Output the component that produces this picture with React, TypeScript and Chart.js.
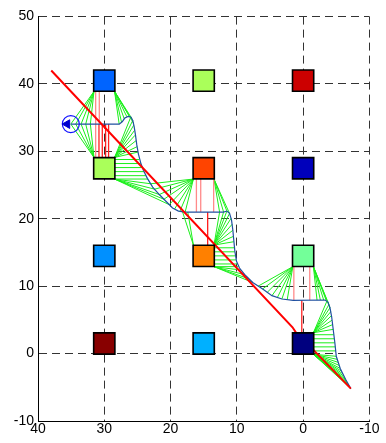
import { useEffect, useRef } from 'react';
import { Chart, registerables } from 'chart.js';

Chart.register(...registerables);

// ---- data ----
const xTickValues = [40, 30, 20, 10, 0, -10];
const yTickValues = [50, 40, 30, 20, 10, 0, -10];

const squareX = [30, 15, 0, 30, 15, 0, 30, 15, 0, 30, 15, 0];
const squareY = [40.5, 40.5, 40.5, 27.5, 27.5, 27.5, 14.5, 14.5, 14.5, 1.5, 1.5, 1.5];
const squareColors = [
  '#0064ff', '#aaff5a', '#cc0000',
  '#aaff5a', '#ff4400', '#0000bb',
  '#0090ff', '#ff8000', '#73ff99',
  '#880000', '#00b0ff', '#00007f',
];

const pathX = [35.05, 27.75, 27.3, 26.9, 26.4, 26.0, 25.7, 25.5, 25.3, 25.1, 24.85, 24.5, 24.1, 23.5, 22.7, 21.7, 20.7, 19.7, 18.8, 17.8, 12.0, 11.5, 11.1, 10.8, 10.6, 10.45, 10.3, 10.05, 9.6, 8.8, 7.6, 6.1, 4.7, 3.2, 1.5, -3.3, -3.75, -4.05, -4.3, -4.55, -4.8, -5.0, -5.6, -6.4, -7.2];
const pathY = [34.05, 34.05, 34.4, 34.95, 35.2, 35.1, 34.6, 33.7, 32.5, 31.0, 29.6, 28.3, 27.2, 26.0, 24.7, 23.6, 22.6, 21.6, 21.15, 21.0, 21.0, 21.15, 20.8, 19.8, 18.3, 16.7, 15.2, 13.7, 12.7, 11.7, 10.55, 9.6, 8.6, 8.1, 7.9, 7.95, 7.65, 6.8, 5.5, 3.5, 1.5, -0.4, -2.2, -3.8, -5.2];

const redLineX = [38, 1.6, 1.0, -1.4, -7.2];
const redLineY = [42, 3.9, 3.0, 0.7, -5.2];

const startX = 35.05;
const startY = 34.05;
const arrowX = 35.6;

// green fans: anchor on a square -> points on the path
const greenFans: { from: number[]; to: number[][] }[] = [
  { from: [31.55, 38.9], to: [[35.05, 34.05], [34.3, 34.05], [33.5, 34.05], [32.8, 34.05], [32.1, 34.05]] },
  { from: [31.55, 29.1], to: [[35.05, 34.05], [34.3, 34.05], [33.5, 34.05], [32.8, 34.05], [32.1, 34.05]] },
  { from: [28.45, 38.9], to: [[27.75, 34.05], [27.4, 34.35], [27.0, 34.85], [26.6, 35.15], [26.2, 35.2], [25.85, 34.9], [25.6, 34.2]] },
  { from: [28.45, 29.1], to: [[26.0, 35.1], [25.7, 34.6], [25.55, 33.9], [25.45, 33.1], [25.35, 32.4], [25.2, 31.6], [25.05, 30.7], [24.9, 29.9]] },
  { from: [28.45, 25.9], to: [[23.4, 25.9], [23.0, 25.2], [22.4, 24.4], [21.7, 23.6], [21.0, 22.9], [20.2, 22.1]] },
  { from: [16.55, 25.9], to: [[23.0, 25.2], [22.4, 24.4], [21.7, 23.6], [21.0, 22.9], [20.2, 22.1], [19.4, 21.45], [18.6, 21.1], [17.8, 21.0]] },
  { from: [13.45, 25.9], to: [[12.6, 21.0], [12.0, 21.0], [11.5, 21.15], [11.1, 20.8]] },
  { from: [16.55, 16.1], to: [[18.2, 21.05], [17.4, 21.0]] },
  { from: [13.45, 16.1], to: [[12.6, 21.0], [12.0, 21.0], [11.5, 21.15], [11.1, 20.8], [10.85, 20.1], [10.7, 19.2], [10.6, 18.3], [10.5, 17.4], [10.45, 16.6]] },
  { from: [13.45, 12.9], to: [[9.8, 12.9], [9.4, 12.4], [8.8, 11.7], [8.2, 11.1], [7.6, 10.55]] },
  { from: [1.55, 12.9], to: [[6.8, 10.0], [6.1, 9.6], [5.4, 9.1], [4.7, 8.6], [3.9, 8.3], [3.2, 8.1], [2.4, 8.0]] },
  { from: [-1.55, 12.9], to: [[-2.1, 7.93], [-2.6, 7.94], [-3.1, 7.95], [-3.5, 7.85], [-3.8, 7.5], [-4.05, 6.8]] },
  { from: [-1.55, 3.1], to: [[-3.6, 7.8], [-3.9, 7.3], [-4.05, 6.8], [-4.15, 6.2], [-4.25, 5.6], [-4.35, 4.95], [-4.45, 4.3], [-4.55, 3.6]] },
  { from: [-1.55, -0.1], to: [[-5.0, -0.4], [-5.15, -0.85], [-5.3, -1.3], [-5.45, -1.75], [-5.6, -2.2], [-5.8, -2.6], [-6.0, -3.0], [-6.2, -3.4], [-6.4, -3.8], [-6.6, -4.15], [-6.8, -4.5], [-7.0, -4.85], [-7.2, -5.2]] },
];

// horizontal green links from a square edge to the path: [x1, y, x2]
const greenHorizontals = [
  [28.45, 28.8, 24.75], [28.45, 28.2, 24.5], [28.45, 27.6, 24.3], [28.45, 27.0, 24.0], [28.45, 26.4, 23.75],
  [13.45, 15.7, 10.35], [13.45, 15.1, 10.3], [13.45, 14.5, 10.2], [13.45, 13.9, 10.1], [13.45, 13.3, 9.9],
  [-1.55, 2.8, -4.63], [-1.55, 2.2, -4.7], [-1.55, 1.6, -4.78], [-1.55, 1.0, -4.85], [-1.55, 0.4, -4.92],
];

// vertical links: [x, y1, y2]
const pinkVerticals = [
  [31.3, 38.9, 29.1], [30.75, 38.9, 34.05],
  [16.1, 25.9, 21.0], [15.45, 25.9, 21.0], [13.5, 25.9, 21.0],
  [1.4, 12.9, 7.9], [-1.0, 12.9, 7.93],
];
const redVerticals = [
  [30.8, 34.05, 29.1], [30.3, 34.05, 29.1], [29.8, 34.05, 29.1], [29.35, 34.05, 29.1],
  [14.4, 21.0, 16.1],
  [0.2, 7.9, 3.1],
];

type P = { x: number; y: number | null };

function segmentsToData(segs: number[][]): P[] {
  const out: P[] = [];
  segs.forEach(([x1, y1, x2, y2]) => {
    out.push({ x: x1, y: y1 }, { x: x2, y: y2 }, { x: x2, y: null });
  });
  return out;
}

export default function App() {
  const ref = useRef<HTMLCanvasElement | null>(null);

  useEffect(() => {
    if (!ref.current) return;
    const greenSegs: number[][] = [];
    greenFans.forEach((f) => f.to.forEach((t) => greenSegs.push([f.from[0], f.from[1], t[0], t[1]])));
    greenHorizontals.forEach(([x1, y, x2]) => greenSegs.push([x1, y, x2, y]));
    const pinkSegs = pinkVerticals.map(([x, y1, y2]) => [x, y1, x, y2]);
    const redSegs = redVerticals.map(([x, y1, y2]) => [x, y1, x, y2]);

    const lineDs = (data: P[], color: string, width: number, order: number) => ({
      type: 'scatter' as const,
      data,
      showLine: true,
      spanGaps: false,
      borderColor: color,
      borderWidth: width,
      pointRadius: 0,
      pointHoverRadius: 0,
      fill: false,
      tension: 0,
      order,
    });

    const font = { family: '"Liberation Sans", Arial, Helvetica, sans-serif', size: 14 };

    const chart = new Chart(ref.current, {
      type: 'scatter',
      data: {
        datasets: [
          lineDs(segmentsToData(greenSegs), '#1aef1a', 1, 7),
          lineDs(segmentsToData(pinkSegs), '#ff8a8a', 1.3, 6),
          lineDs(segmentsToData(redSegs), '#ff2020', 1.3, 5),
          lineDs(pathX.map((x, i) => ({ x, y: pathY[i] })), '#2050a0', 1.2, 4),
          lineDs(redLineX.map((x, i) => ({ x, y: redLineY[i] })), '#ff0000', 2, 3),
          {
            type: 'scatter',
            data: squareX.map((x, i) => ({ x, y: squareY[i] })),
            pointStyle: 'rect',
            pointRadius: 15,
            pointHoverRadius: 15,
            backgroundColor: squareColors,
            borderColor: '#000000',
            borderWidth: 1.6,
            order: 2,
          },
          {
            type: 'scatter',
            data: [{ x: startX, y: startY }],
            pointStyle: 'circle',
            pointRadius: 8.5,
            backgroundColor: 'rgba(0,0,0,0)',
            borderColor: '#1010ff',
            borderWidth: 1.2,
            order: 1,
          },
          {
            type: 'scatter',
            data: [{ x: arrowX, y: startY }],
            pointStyle: 'triangle',
            rotation: 270,
            pointRadius: 5,
            backgroundColor: '#0000d0',
            borderColor: '#0000d0',
            borderWidth: 1,
            order: 0,
          },
        ] as any,
      },
      options: {
        animation: false,
        responsive: false,
        devicePixelRatio: 1,
        events: [],
        layout: { padding: { top: 15, right: 5, bottom: 0, left: 0 } },
        plugins: { legend: { display: false }, tooltip: { enabled: false } },
        scales: {
          x: {
            type: 'linear',
            reverse: true,
            min: -10,
            max: 40,
            afterBuildTicks: (s: any) => {
              s.ticks = xTickValues.map((v) => ({ value: v }));
            },
            afterFit: (s: any) => {
              s.height = 22;
              s.paddingLeft = 0;
              s.paddingRight = 0;
            },
            ticks: { color: '#000', font, padding: 0, maxRotation: 0, autoSkip: false },
            grid: { color: '#333', lineWidth: 1, drawTicks: false },
            border: { display: true, color: '#000', width: 1, dash: [8, 5] },
          },
          y: {
            type: 'linear',
            min: -10,
            max: 50,
            afterBuildTicks: (s: any) => {
              s.ticks = yTickValues.map((v) => ({ value: v }));
            },
            afterFit: (s: any) => {
              s.width = 38;
            },
            ticks: { color: '#000', font, padding: 4, autoSkip: false },
            grid: { color: '#333', lineWidth: 1, drawTicks: false },
            border: { display: true, color: '#000', width: 1, dash: [8, 5] },
          },
        },
      } as any,
    });
    return () => chart.destroy();
  }, []);

  return (
    <div style={{ position: 'absolute', left: 0, top: 0, width: 386, height: 443, overflow: 'hidden', background: '#fff' }}>
      <canvas ref={ref} width={386} height={443} style={{ width: 386, height: 443, display: 'block' }} />
    </div>
  );
}
